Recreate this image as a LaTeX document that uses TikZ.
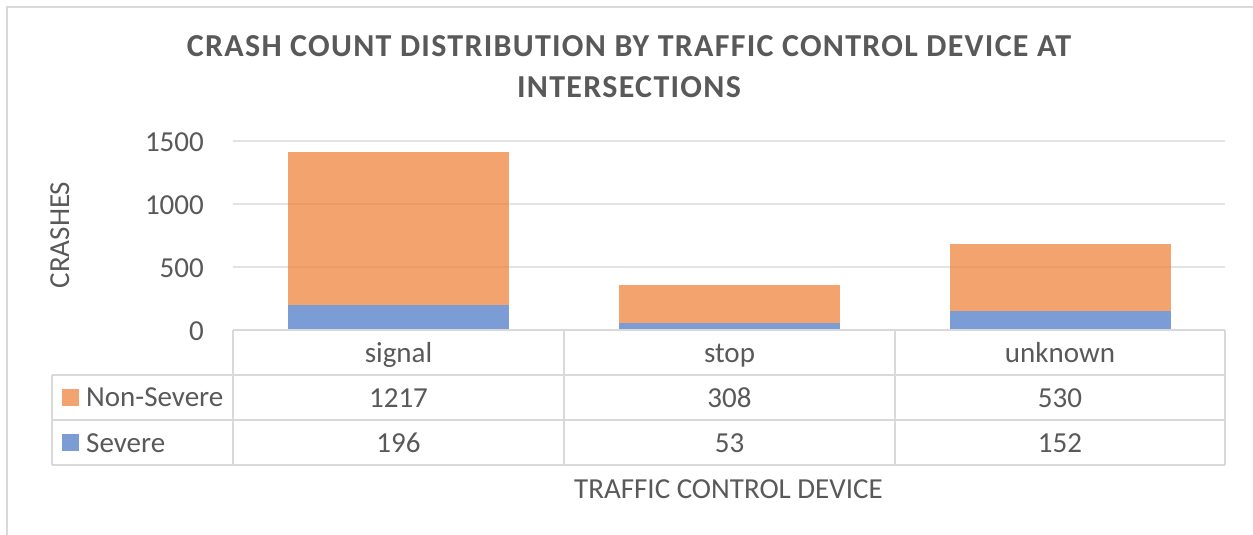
\documentclass[tikz,border=0pt]{standalone}
\usepackage{fontspec}
\setmainfont{Carlito}
\definecolor{txtc}{HTML}{595959}
\definecolor{gridc}{HTML}{D9D9D9}
\definecolor{lgrid}{HTML}{E3E3E3}
\definecolor{orangeS}{HTML}{ED7D31}
\definecolor{blueS}{HTML}{4472C4}
\begin{document}
\begin{tikzpicture}[x=1pt,y=-1pt,
  lbl/.style={font=\fontsize{29}{35}\selectfont, text=txtc, inner sep=0pt},
  ttl/.style={font=\fontsize{32}{38}\selectfont\bfseries\addfontfeature{LetterSpace=4}, text=txtc, inner sep=0pt},
  gridline/.style={draw=lgrid, line width=1.5pt},
  tblline/.style={draw=gridc, line width=2pt},
  nsbar/.style={fill=orangeS, fill opacity=0.7},
  sbar/.style={fill=blueS, fill opacity=0.7}]
\useasboundingbox (0,0) rectangle (1253,535);
\fill[white] (0,0) rectangle (1253,535);
% chart frame
\draw[tblline] (7,535) -- (7,7) -- (1253,7);
% title
\node[ttl, anchor=base] (t1) at (629,57) {CRASH COUNT DISTRIBUTION BY TRAFFIC CONTROL DEVICE AT};
\node[ttl, anchor=base] (t2) at (629,97) {INTERSECTIONS};
% gridlines
\draw[gridline] (233,141) -- (1225,141);
\draw[gridline] (233,204) -- (1225,204);
\draw[gridline] (233,267) -- (1225,267);
% tick labels
\node[lbl, anchor=base east] (y1500) at (204,151) {1500};
\node[lbl, anchor=base east] (y1000) at (204,214) {1000};
\node[lbl, anchor=base east] (y500) at (204,277) {500};
\node[lbl, anchor=base east] (y0) at (204,340) {0};
% axis title
\node[lbl, anchor=base, rotate=90] (ytitle) at (69,235) {CRASHES};
% bars
\fill[sbar] (288,330) rectangle (509,{330-196*0.126});
\fill[nsbar] (288,{330-196*0.126}) rectangle (509,{330-1413*0.126});
\fill[sbar] (619,330) rectangle (840,{330-53*0.126});
\fill[nsbar] (619,{330-53*0.126}) rectangle (840,{330-361*0.126});
\fill[sbar] (950,330) rectangle (1171,{330-152*0.126});
\fill[nsbar] (950,{330-152*0.126}) rectangle (1171,{330-682*0.126});
% data table
\draw[tblline] (233,330) -- (1225,330);
\draw[tblline] (52,375) -- (1225,375);
\draw[tblline] (52,420) -- (1225,420);
\draw[tblline] (52,465) -- (1225,465);
\draw[tblline] (52,375) -- (52,465);
\draw[tblline] (233,330) -- (233,465);
\draw[tblline] (564,330) -- (564,465);
\draw[tblline] (895,330) -- (895,465);
\draw[tblline] (1225,330) -- (1225,465);
% categories
\node[lbl, anchor=base] (csignal) at (398.5,362) {signal};
\node[lbl, anchor=base] (cstop) at (729.5,362) {stop};
\node[lbl, anchor=base] (cunknown) at (1060,362) {unknown};
% legend keys
\fill[nsbar] (62,389) rectangle (79,406);
\fill[sbar] (62,434) rectangle (79,451);
\node[lbl, anchor=base west] (lns) at (86,406) {Non-Severe};
\node[lbl, anchor=base west] (ls) at (86,452) {Severe};
% values
\node[lbl, anchor=base] (v11) at (398.5,407) {1217};
\node[lbl, anchor=base] (v12) at (729.5,407) {308};
\node[lbl, anchor=base] (v13) at (1060,407) {530};
\node[lbl, anchor=base] (v21) at (398.5,452) {196};
\node[lbl, anchor=base] (v22) at (729.5,452) {53};
\node[lbl, anchor=base] (v23) at (1060,452) {152};
% x axis title
\node[lbl, anchor=base] (xtitle) at (728.5,498) {TRAFFIC CONTROL DEVICE};
\end{tikzpicture}
\end{document}
